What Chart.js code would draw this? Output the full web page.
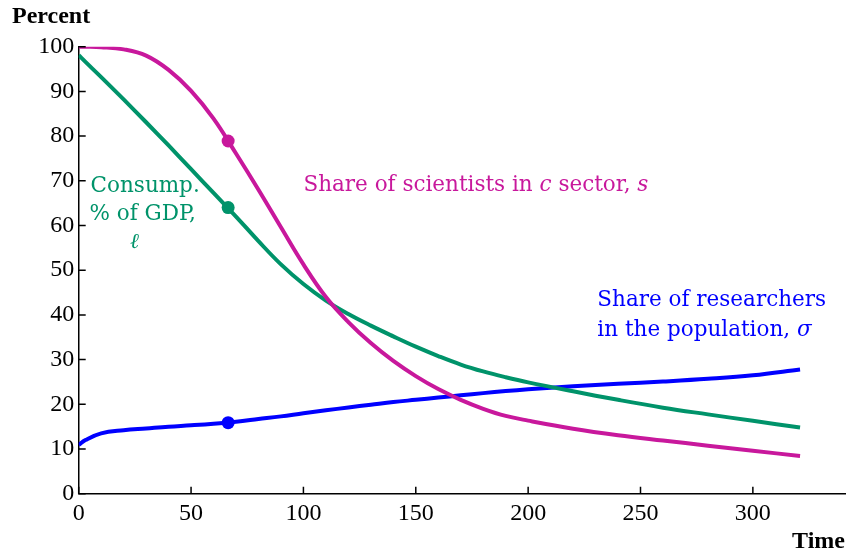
<!DOCTYPE html>
<html>
<head>
<meta charset="utf-8">
<script src="https://cdn.jsdelivr.net/npm/chart.js@4.4.0/dist/chart.umd.min.js"></script>
<style>
  html, body { margin: 0; padding: 0; background: #fff; }
  canvas { display: block; }
</style>
</head>
<body>
<canvas id="chart" width="847" height="556"></canvas>
<script>
// time points (shared by all three curves)
const time = [0, 3, 10, 20, 30, 40, 50, 60, 70, 80, 90, 100, 110, 120, 130, 140, 150, 160, 170, 180, 190, 200, 220, 240, 260, 280, 300, 321];
// share of scientists in c sector, s (%)
const scientists = [100, 100, 99.9, 99.4, 98.0, 94.8, 90.1, 83.9, 76.1, 68.0, 59.6, 51.3, 44.0, 38.4, 33.7, 29.7, 26.3, 23.4, 21.0, 19.0, 17.4, 16.35, 14.55, 13.1, 11.9, 10.75, 9.6, 8.45];
// consumption % of GDP, l
const consumption = [98.1, 96.6, 93.2, 88.2, 83.1, 77.9, 72.6, 67.3, 62.0, 56.5, 51.3, 46.9, 43.2, 40.2, 37.6, 35.2, 32.9, 30.8, 28.9, 27.35, 26.05, 24.9, 22.9, 21.0, 19.25, 17.75, 16.3, 14.8];
// share of researchers in the population, sigma (%)
const researchers = [10.9, 12.0, 13.5, 14.2, 14.6, 15.0, 15.3, 15.65, 16.1, 16.7, 17.3, 18.0, 18.65, 19.3, 19.9, 20.5, 21.0, 21.5, 22.0, 22.5, 22.95, 23.35, 24.05, 24.6, 25.1, 25.7, 26.5, 27.8];

// the dot on every curve
const markerTime = 66.5;
const markerScientists = 78.9;
const markerConsumption = 64.0;
const markerResearchers = 15.9;

const xTicks = [0, 50, 100, 150, 200, 250, 300];
const yTicks = [0, 10, 20, 30, 40, 50, 60, 70, 80, 90, 100];

const MAGENTA = '#c8189c';
const GREEN = '#00936a';
const BLUE = '#0000ff';

// curve labels, placed in data units (left edge, baseline)
const notes = [
    { x: 100, y: 67.7, color: MAGENTA, parts: [['Share of scientists in ', 0], ['c', 1], [' sector, ', 0], ['s', 1]] },
    { x: 230.8, y: 42.0, color: BLUE, parts: [['Share of researchers', 0]] },
    { x: 230.8, y: 35.3, color: BLUE, parts: [['in the population, ', 0], ['σ', 1]] },
    { x: 5.3, y: 67.5, color: GREEN, parts: [['Consump.', 0]] },
    { x: 4.8, y: 61.2, color: GREEN, parts: [['% of GDP,', 0]] },
    { x: 22.8, y: 55.0, color: GREEN, parts: [['ℓ', 1]] }
];

function curve(label, values, color) {
    return {
        label: label,
        data: time.map((t, i) => ({ x: t, y: values[i] })),
        borderColor: color,
        borderWidth: 4,
        tension: 0.4,
        pointRadius: 0,
        pointHoverRadius: 0,
        fill: false
    };
}

function dot(value, color) {
    return {
        data: [{ x: markerTime, y: value }],
        showLine: false,
        backgroundColor: color,
        borderWidth: 0,
        pointRadius: 6.5,
        pointHoverRadius: 6.5
    };
}

// inward ticks, axis titles and curve labels
const extras = {
    id: 'extras',
    afterDraw(chart) {
        const ctx = chart.ctx;
        const x = chart.scales.x;
        const y = chart.scales.y;
        const area = chart.chartArea;
        ctx.save();
        ctx.strokeStyle = '#000';
        ctx.lineWidth = 1.5;
        ctx.beginPath();
        xTicks.forEach(v => {
            const px = x.getPixelForValue(v);
            ctx.moveTo(px, area.bottom);
            ctx.lineTo(px, area.bottom - 7);
        });
        yTicks.forEach(v => {
            const py = y.getPixelForValue(v);
            ctx.moveTo(area.left, py);
            ctx.lineTo(area.left + 7, py);
        });
        ctx.stroke();

        ctx.fillStyle = '#000';
        ctx.font = 'bold 24px "Liberation Serif"';
        ctx.textBaseline = 'alphabetic';
        ctx.textAlign = 'left';
        ctx.fillText('Percent', 12, 23);
        ctx.textAlign = 'right';
        ctx.fillText('Time', 845, 548);

        ctx.textAlign = 'left';
        notes.forEach(n => {
            let px = x.getPixelForValue(n.x);
            const py = y.getPixelForValue(n.y);
            ctx.fillStyle = n.color;
            n.parts.forEach(([txt, italic]) => {
                ctx.font = (italic ? 'italic ' : '') + '21.5px "DejaVu Serif"';
                ctx.fillText(txt, px, py);
                px += ctx.measureText(txt).width;
            });
        });
        ctx.restore();
    }
};

new Chart(document.getElementById('chart'), {
    type: 'line',
    data: {
        datasets: [
            dot(markerScientists, MAGENTA),
            dot(markerConsumption, GREEN),
            dot(markerResearchers, BLUE),
            curve('Share of scientists in c sector, s', scientists, MAGENTA),
            curve('Consump. % of GDP', consumption, GREEN),
            curve('Share of researchers in the population', researchers, BLUE)
        ]
    },
    options: {
        responsive: false,
        animation: false,
        devicePixelRatio: 1,
        layout: { autoPadding: false, padding: { top: 46.7, right: 2, left: 0, bottom: 0 } },
        plugins: {
            legend: { display: false },
            tooltip: { enabled: false }
        },
        scales: {
            x: {
                type: 'linear',
                min: 0,
                max: 341,
                afterBuildTicks: s => { s.ticks = xTicks.map(v => ({ value: v })); },
                afterFit: s => { s.height = 62.3; },
                grid: { display: true, drawOnChartArea: false, drawTicks: false },
                border: { display: true, color: '#000', width: 1.5 },
                ticks: {
                    color: '#000',
                    padding: 6,
                    maxRotation: 0,
                    font: { family: '"Liberation Serif"', size: 24 }
                }
            },
            y: {
                type: 'linear',
                min: 0,
                max: 100,
                afterBuildTicks: s => { s.ticks = yTicks.map(v => ({ value: v })); },
                afterFit: s => { s.width = 78.7; },
                grid: { display: true, drawOnChartArea: false, drawTicks: false },
                border: { display: true, color: '#000', width: 1.5 },
                ticks: {
                    color: '#000',
                    padding: 4.5,
                    font: { family: '"Liberation Serif"', size: 24 }
                }
            }
        }
    },
    plugins: [extras]
});
</script>
</body>
</html>
